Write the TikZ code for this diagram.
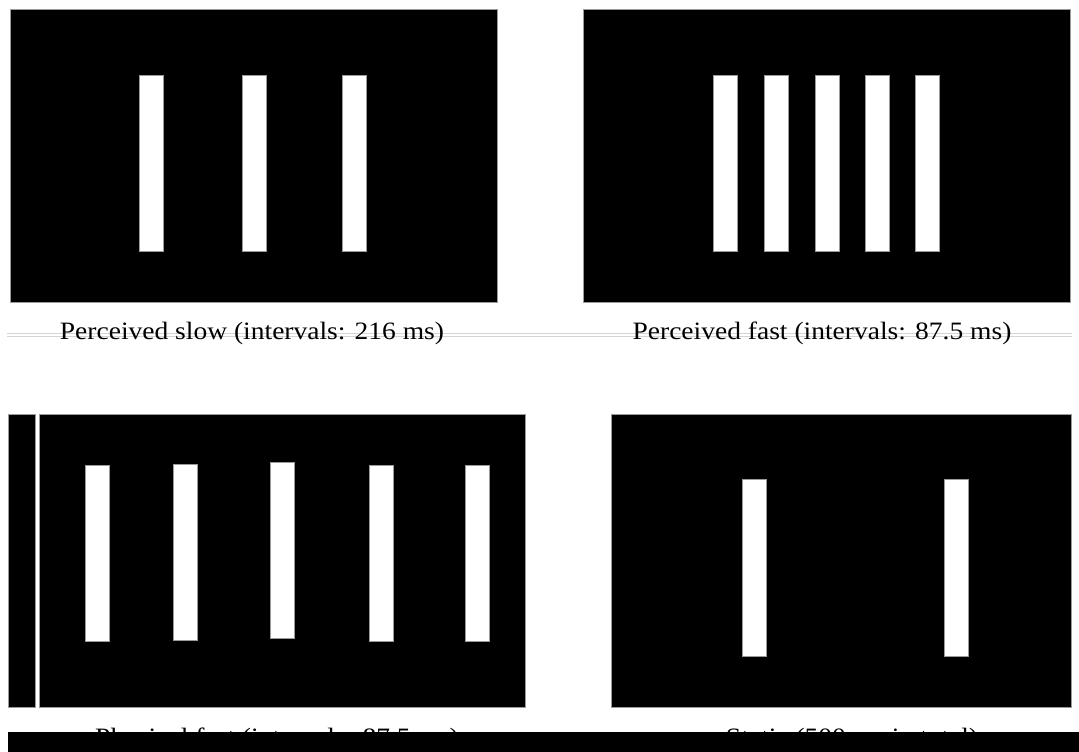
\documentclass[tikz,border=0pt]{standalone}
\usepackage{graphicx}
\usepackage{fontspec}
\setmainfont{Liberation Serif}
\usetikzlibrary{positioning}
\definecolor{StimEdge}{HTML}{9A9A9A}
\definecolor{StimRule}{HTML}{D4D4D4}
\tikzset{
  stimpanel/.style={fill=black,draw=StimEdge,line width=0.6pt},
  stimbar/.style={fill=white,draw=StimEdge,line width=0.6pt},
  stimcap/.style={anchor=base,inner sep=0pt,
    font=\fontsize{25}{30}\selectfont}
}
\begin{document}
\begin{tikzpicture}[x=1pt,y=-1pt]
        \useasboundingbox[fill=white] (0,0) rectangle (1079,752);
        % top row
        \draw[stimpanel] (10,9) rectangle (497,302);
        \draw[stimpanel] (583,9) rectangle (1070,302);
        \foreach \bx in {139,242,342}
          \draw[stimbar] (\bx,75) rectangle ++(24,176);
        \foreach \bx in {713,764,815,865,915}
          \draw[stimbar] (\bx,75) rectangle ++(24,176);
        \draw[StimRule,line width=0.5pt] (7,333.5) -- (1072,333.5);
        \draw[StimRule,line width=0.5pt] (7,336.5) -- (1072,336.5);
        \node[stimcap] (capslow) at (252,339)
          {\scalebox{1.1}[1]{Perceived slow (intervals: 216 ms)}};
        \node[stimcap] (capfast) at (822,339)
          {\scalebox{1.1}[1]{Perceived fast (intervals: 87.5 ms)}};
        % bottom row
        \draw[stimpanel] (8,414) rectangle (35,707);
        \draw[stimpanel] (39,414) rectangle (525,707);
        \foreach \bx/\by in {85/465,173/464,270/462,369/465,465/465}
          \draw[stimbar] (\bx,\by) rectangle ++(24,176);
        \draw[stimpanel] (611,414) rectangle (1071,707);
        \foreach \bx in {742,944}
          \draw[stimbar] (\bx,479) rectangle ++(24,177);
        \node[stimcap] (capphys) at (277,745)
          {\scalebox{1.1}[1]{Physical fast (intervals: 87.5 ms)}};
        \node[stimcap] (capstatic) at (852,745)
          {\scalebox{1.1}[1]{Static (500 ms in total)}};
        \fill[black] (8,732) rectangle (1079,752);
      \end{tikzpicture}
\end{document}
